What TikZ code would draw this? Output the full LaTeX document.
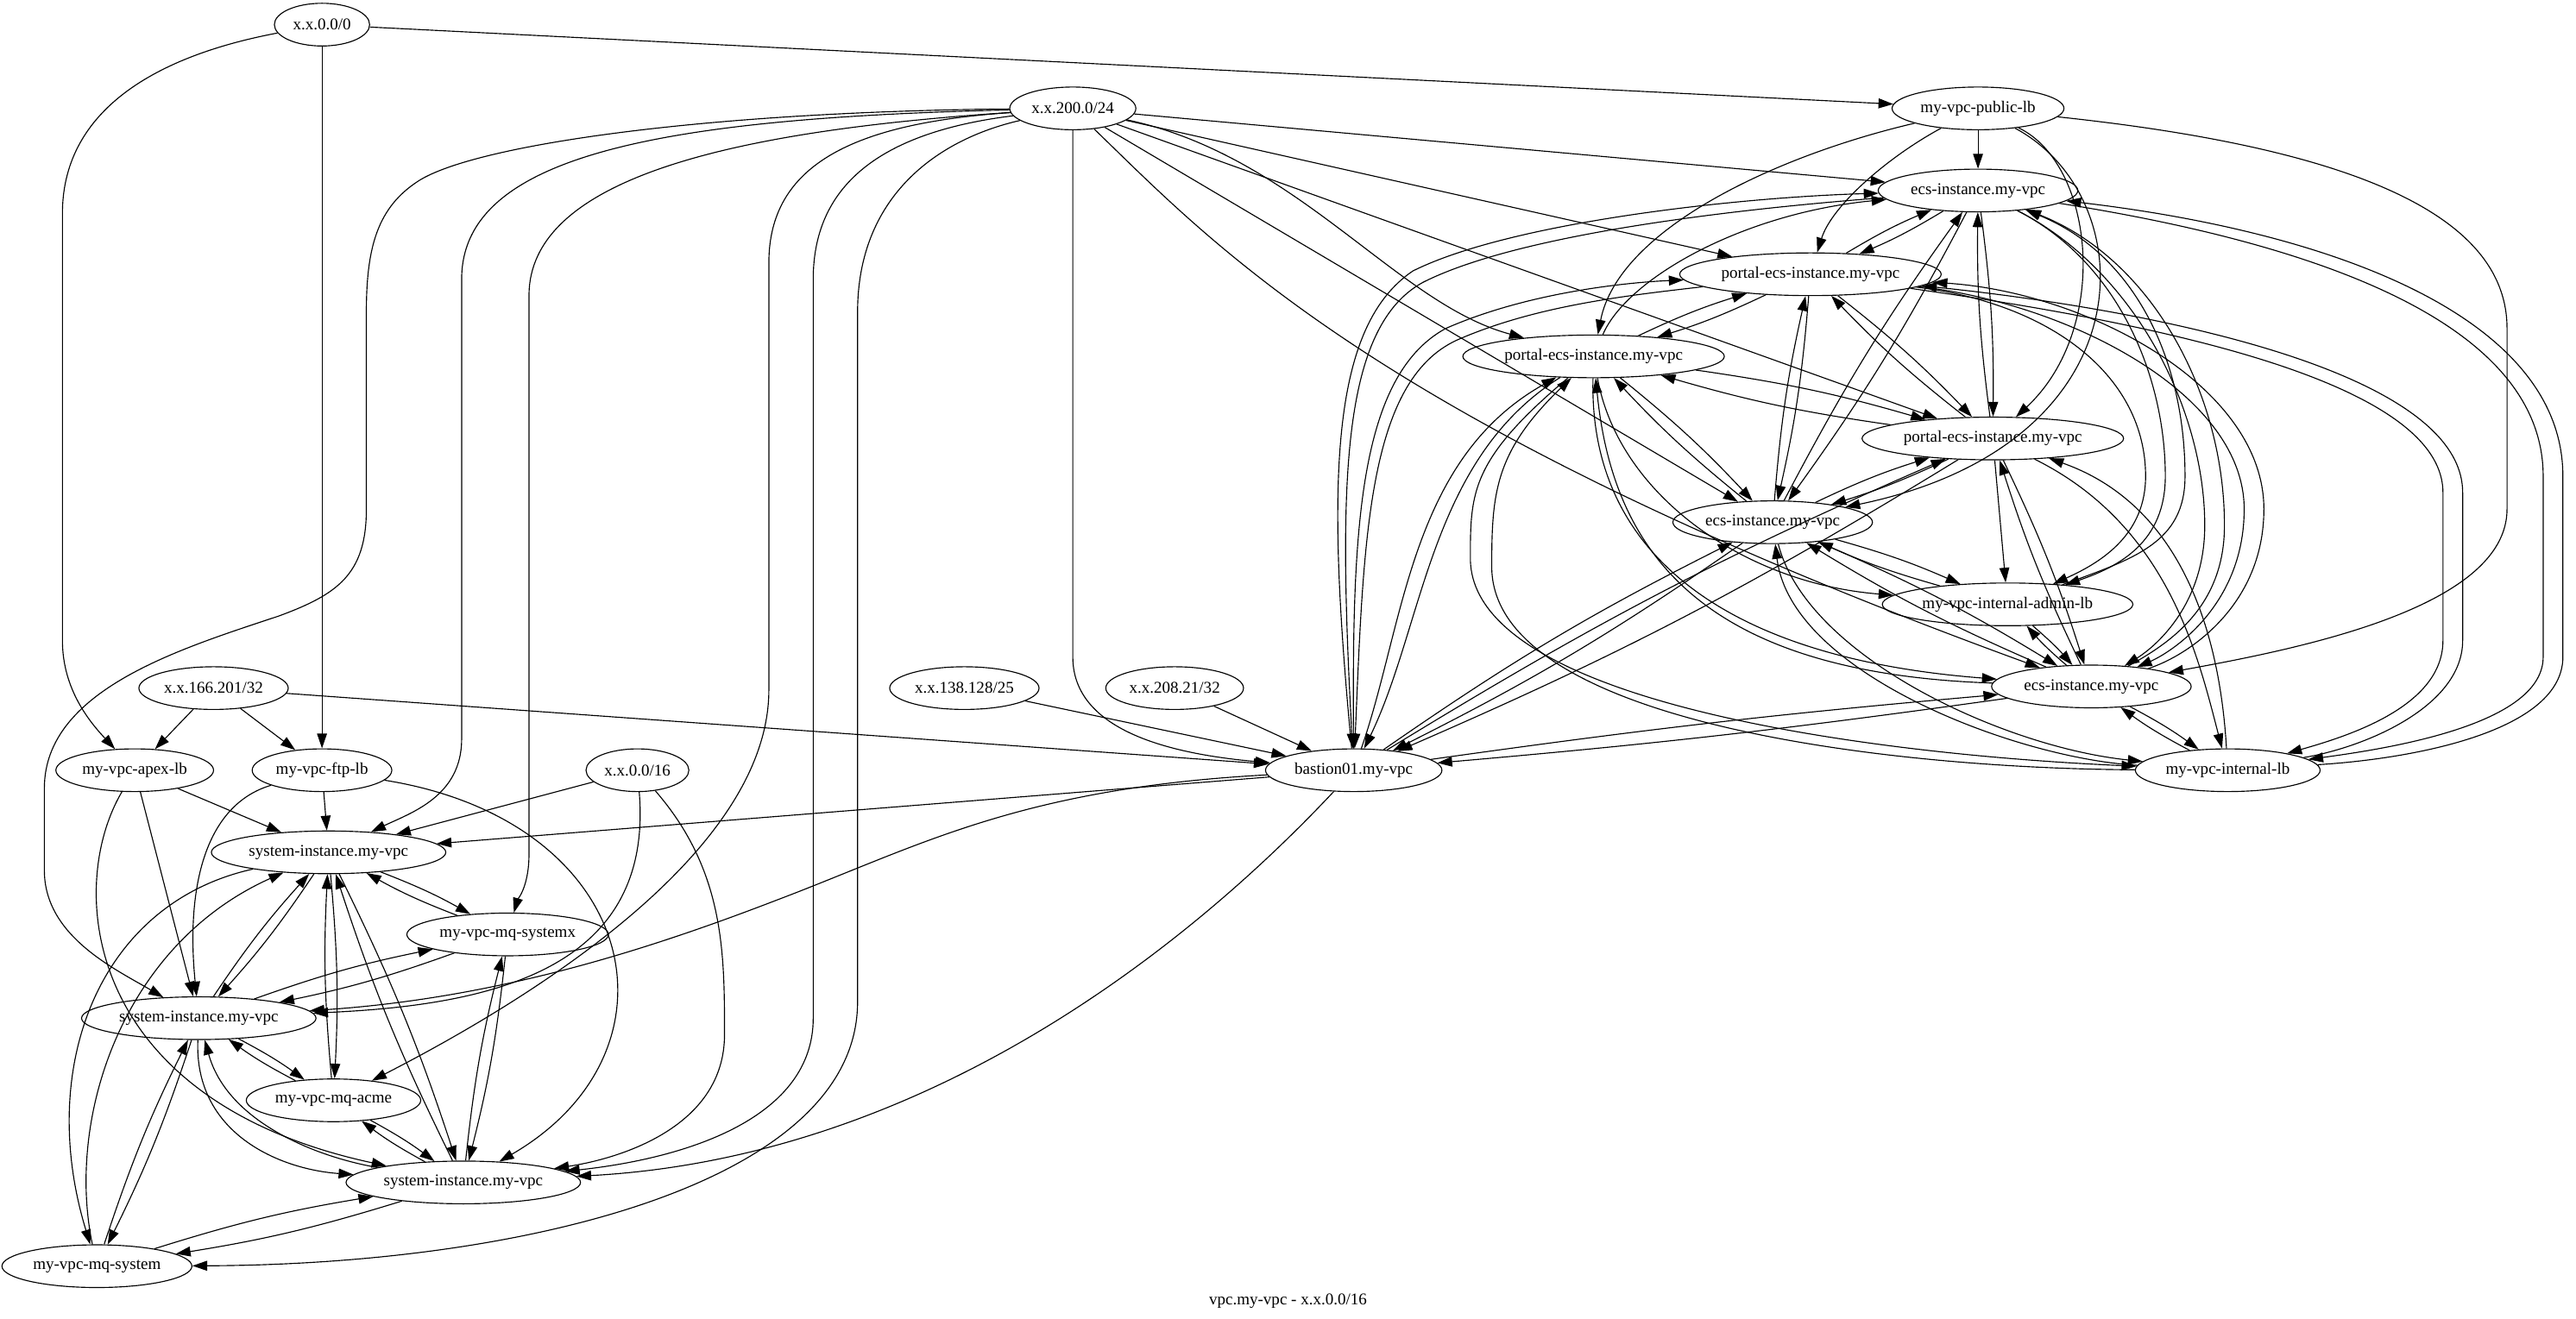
\documentclass[tikz,border=0pt]{standalone}
\usepackage{fontspec}
\setmainfont{Liberation Serif}
\usetikzlibrary{arrows.meta,shapes.geometric}

\begin{document}
\begin{tikzpicture}[
  x=1pt, y=1pt,
  >={Triangle[length=9pt,width=6pt]},
  host/.style={draw, ellipse, line width=0.6pt, minimum width=58pt, minimum height=26pt,
    inner xsep=2pt, inner ysep=0pt, font=\fontsize{10}{12}\selectfont},
  link/.style={->, line width=0.6pt},
  twoway/.style={bend left=4},
]
  \useasboundingbox (0,0) rectangle (1568,-803);

  % --- address blocks ---
  \node[host] (net0) at (196,-15) {x.x.0.0/0};
  \node[host] (net200) at (653,-66) {x.x.200.0/24};
  \node[host] (net166) at (130,-419) {x.x.166.201/32};
  \node[host] (net138) at (587,-419) {x.x.138.128/25};
  \node[host] (net208) at (715,-419) {x.x.208.21/32};
  \node[host] (net16) at (388,-469) {x.x.0.0/16};

  % --- load balancers ---
  \node[host] (publb) at (1204,-66) {my-vpc-public-lb};
  \node[host] (adminlb) at (1222,-368) {my-vpc-internal-admin-lb};
  \node[host] (intlb) at (1356,-469) {my-vpc-internal-lb};
  \node[host] (apexlb) at (82,-469) {my-vpc-apex-lb};
  \node[host] (ftplb) at (196,-469) {my-vpc-ftp-lb};

  % --- instances ---
  \node[host] (ecsA) at (1204,-116) {ecs-instance.my-vpc};
  \node[host] (portalA) at (1102,-167) {portal-ecs-instance.my-vpc};
  \node[host] (portalB) at (970,-217) {portal-ecs-instance.my-vpc};
  \node[host] (portalC) at (1213,-267) {portal-ecs-instance.my-vpc};
  \node[host] (ecsB) at (1079,-318) {ecs-instance.my-vpc};
  \node[host] (ecsC) at (1273,-418) {ecs-instance.my-vpc};
  \node[host] (bastion) at (824,-469) {bastion01.my-vpc};
  \node[host] (sysA) at (200,-519) {system-instance.my-vpc};
  \node[host] (mqx) at (309,-569) {my-vpc-mq-systemx};
  \node[host] (sysB) at (121,-620) {system-instance.my-vpc};
  \node[host] (acme) at (203,-670) {my-vpc-mq-acme};
  \node[host] (sysC) at (282,-720) {system-instance.my-vpc};
  \node[host] (mqsys) at (59,-771) {my-vpc-mq-system};

  \node[font=\fontsize{10}{12}\selectfont] (title) at (784,-792) {vpc.my-vpc - x.x.0.0/16};

  % --- x.x.0.0/0 ---
  \draw[link] (net0) .. controls (90,-35) and (38,-70) .. (38,-130) -- (38,-390)
    .. controls (38,-420) and (55,-440) .. (apexlb);
  \draw[link] (net0) -- (ftplb);
  \draw[link] (net0) -- (publb);

  % --- single hosts to bastion / lbs ---
  \draw[link] (net166) -- (apexlb);
  \draw[link] (net166) -- (ftplb);
  \draw[link] (net166) -- (bastion);
  \draw[link] (net138) -- (bastion);
  \draw[link] (net208) -- (bastion);

  % --- x.x.200.0/24 ---
  \draw[link] (net200) .. controls (430,-68) and (290,-88) .. (255,-110)
    .. controls (230,-126) and (223,-150) .. (223,-190) -- (223,-310)
    .. controls (223,-350) and (205,-362) .. (170,-375)
    .. controls (110,-395) and (27,-420) .. (27,-480) -- (27,-530)
    .. controls (27,-570) and (70,-590) .. (sysB);
  \draw[link] (net200) .. controls (400,-72) and (281,-95) .. (281,-170) -- (281,-450)
    .. controls (281,-485) and (250,-495) .. (sysA);
  \draw[link] (net200) .. controls (440,-80) and (322,-110) .. (322,-180) -- (322,-520)
    .. controls (322,-540) and (315,-548) .. (mqx);
  \draw[link] (net200) .. controls (520,-75) and (468,-100) .. (468,-160) -- (468,-420)
    .. controls (468,-520) and (320,-610) .. (acme);
  \draw[link] (net200) .. controls (540,-80) and (495,-110) .. (495,-170) -- (495,-620)
    .. controls (495,-680) and (420,-705) .. (sysC);
  \draw[link] (net200) .. controls (570,-85) and (522,-120) .. (522,-190) -- (522,-610)
    .. controls (522,-720) and (320,-770) .. (mqsys);
  \draw[link] (net200) -- (653,-400) .. controls (653,-440) and (700,-458) .. (bastion);
  \draw[link] (net200) -- (ecsA);
  \draw[link] (net200) -- (portalA);
  \draw[link] (net200) -- (portalC);
  \draw[link] (net200) -- (ecsB);
  \draw[link] (net200) .. controls (790,-95) and (850,-185) .. (portalB);
  \draw[link] (net200) .. controls (740,-150) and (840,-260) .. (ecsC);

  % --- public lb ---
  \draw[link] (publb) -- (ecsA);
  \draw[link] (publb) .. controls (1150,-95) and (1115,-125) .. (portalA);
  \draw[link] (publb) .. controls (1080,-95) and (985,-140) .. (portalB);
  \draw[link] (publb) .. controls (1275,-100) and (1285,-200) .. (portalC);
  \draw[link] (publb) .. controls (1305,-120) and (1310,-270) .. (ecsB);
  \draw[link] (publb) .. controls (1430,-90) and (1526,-130) .. (1526,-200) -- (1526,-310)
    .. controls (1526,-370) and (1400,-395) .. (ecsC);

  % --- instance pairs, right ---
  \foreach \a/\b in {ecsA/portalA, ecsA/portalC, ecsA/ecsB, portalA/portalB,
      portalA/portalC, portalA/ecsB, portalB/portalC, portalB/ecsB, portalC/ecsB,
      portalC/ecsC, ecsB/adminlb, ecsB/ecsC, adminlb/ecsC, ecsC/intlb,
      bastion/ecsB, bastion/portalC}
  {
    \draw[link] (\a) to[twoway] (\b);
    \draw[link] (\b) to[twoway] (\a);
  }
  \draw[link] (bastion) to[bend left=1.5] (ecsC);
  \draw[link] (ecsC) to[bend left=1.5] (bastion);

  % bastion up to the top instances
  \draw[link] (bastion) .. controls (808,-300) and (808,-200) .. (860,-165)
    .. controls (920,-135) and (1060,-120) .. (ecsA);
  \draw[link] (ecsA) .. controls (1060,-127) and (925,-142) .. (866,-172)
    .. controls (815,-200) and (815,-300) .. (bastion);
  \draw[link] (bastion) .. controls (823,-330) and (825,-230) .. (880,-200)
    .. controls (930,-178) and (990,-172) .. (portalA);
  \draw[link] (portalA) .. controls (990,-180) and (935,-186) .. (887,-207)
    .. controls (832,-232) and (830,-330) .. (bastion);
  \draw[link] (bastion) .. controls (855,-380) and (858,-280) .. (portalB);
  \draw[link] (portalB) .. controls (870,-280) and (867,-380) .. (bastion);

  % portal B downwards
  \draw[link] (portalB) .. controls (990,-170) and (1060,-130) .. (ecsA);
  \draw[link] (portalB) .. controls (985,-300) and (1060,-355) .. (adminlb);
  \draw[link] (portalB) .. controls (967,-330) and (1040,-400) .. (ecsC);
  \draw[link] (ecsC) .. controls (1040,-410) and (982,-340) .. (portalB);
  \draw[link] (portalB) .. controls (895,-280) and (895,-300) .. (895,-340)
    .. controls (895,-430) and (1150,-460) .. (intlb);
  \draw[link] (intlb) .. controls (1150,-468) and (908,-440) .. (908,-345)
    .. controls (908,-300) and (910,-275) .. (portalB);

  % to the lbs on the right
  \draw[link] (portalC) -- (adminlb);
  \draw[link] (ecsB) .. controls (1100,-400) and (1220,-455) .. (intlb);
  \draw[link] (intlb) .. controls (1228,-462) and (1090,-410) .. (ecsB);
  \draw[link] (portalC) .. controls (1320,-320) and (1338,-400) .. (intlb);
  \draw[link] (intlb) .. controls (1352,-400) and (1335,-310) .. (portalC);
  \draw[link] (ecsA) .. controls (1290,-160) and (1318,-230) .. (1318,-290)
    .. controls (1318,-330) and (1290,-345) .. (adminlb);
  \draw[link] (adminlb) .. controls (1300,-340) and (1330,-330) .. (1330,-290)
    .. controls (1330,-220) and (1300,-155) .. (ecsA);
  \draw[link] (portalA) .. controls (1250,-185) and (1306,-230) .. (1306,-290)
    .. controls (1306,-325) and (1280,-342) .. (adminlb);
  \draw[link] (ecsA) .. controls (1300,-165) and (1342,-250) .. (1342,-320)
    .. controls (1342,-370) and (1310,-395) .. (ecsC);
  \draw[link] (ecsC) .. controls (1320,-392) and (1354,-370) .. (1354,-320)
    .. controls (1354,-240) and (1310,-158) .. (ecsA);
  \draw[link] (portalA) .. controls (1260,-185) and (1366,-240) .. (1366,-310)
    .. controls (1366,-370) and (1320,-398) .. (ecsC);
  \draw[link] (ecsC) .. controls (1330,-400) and (1378,-370) .. (1378,-310)
    .. controls (1378,-235) and (1270,-178) .. (portalA);
  \draw[link] (portalA) .. controls (1300,-195) and (1487,-230) .. (1487,-300) -- (1487,-390)
    .. controls (1487,-430) and (1430,-448) .. (intlb);
  \draw[link] (intlb) .. controls (1440,-455) and (1499,-430) .. (1499,-390) -- (1499,-300)
    .. controls (1499,-225) and (1305,-188) .. (portalA);
  \draw[link] (ecsA) .. controls (1420,-150) and (1548,-200) .. (1548,-290) -- (1548,-400)
    .. controls (1548,-440) and (1460,-455) .. (intlb);
  \draw[link] (intlb) .. controls (1470,-462) and (1560,-445) .. (1560,-400) -- (1560,-290)
    .. controls (1560,-195) and (1425,-142) .. (ecsA);

  % --- left lbs and x.x.0.0/16 ---
  \draw[link] (apexlb) -- (sysA);
  \draw[link] (apexlb) -- (sysB);
  \draw[link] (apexlb) .. controls (40,-540) and (50,-670) .. (sysC);
  \draw[link] (ftplb) -- (sysA);
  \draw[link] (ftplb) .. controls (125,-490) and (113,-540) .. (sysB);
  \draw[link] (ftplb) .. controls (390,-500) and (420,-640) .. (sysC);
  \draw[link] (net16) -- (sysA);
  \draw[link] (net16) .. controls (398,-590) and (300,-612) .. (sysB);
  \draw[link] (net16) .. controls (441,-530) and (441,-580) .. (441,-630)
    .. controls (441,-685) and (380,-705) .. (sysC);
  \draw[link] (bastion) -- (sysA);
  \draw[link] (bastion) .. controls (620,-480) and (560,-515) .. (473,-548)
    .. controls (390,-580) and (300,-608) .. (sysB);
  \draw[link] (bastion) .. controls (720,-580) and (560,-705) .. (sysC);

  % --- instance pairs, left ---
  \foreach \a/\b in {sysA/sysB, sysA/acme, sysA/sysC, sysA/mqx, sysB/mqx,
      sysB/acme, sysB/mqsys, acme/sysC, mqx/sysC, sysC/mqsys}
  {
    \draw[link] (\a) to[twoway] (\b);
    \draw[link] (\b) to[twoway] (\a);
  }
  \draw[link] (sysA) .. controls (60,-550) and (22,-650) .. (mqsys);
  \draw[link] (mqsys) .. controls (40,-680) and (75,-575) .. (sysA);
  \draw[link] (sysB) .. controls (118,-690) and (170,-712) .. (sysC);
  \draw[link] (sysC) .. controls (190,-704) and (138,-682) .. (sysB);

\end{tikzpicture}
\end{document}
